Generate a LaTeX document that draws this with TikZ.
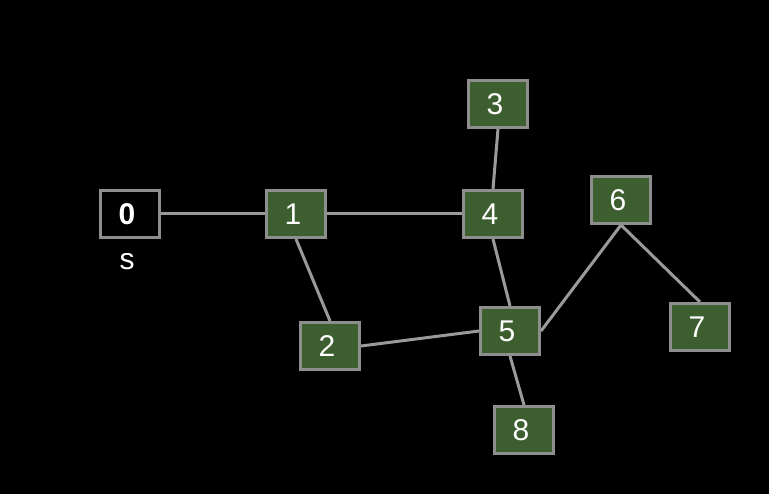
\documentclass[tikz,border=0pt]{standalone}
\usepackage{fontspec}
\setmainfont{Liberation Sans}
\usetikzlibrary{backgrounds}
\definecolor{nodegreen}{HTML}{3D5E2E}
\definecolor{bordergray}{HTML}{8E8E8E}
\definecolor{edgegray}{HTML}{9A9A9A}
\newcommand{\vlab}[1]{\kern-6pt#1}
\tikzset{
  vbox/.style={draw=bordergray, line width=3pt, fill=nodegreen, text=white,
    minimum width=59pt, minimum height=47pt, inner sep=0pt,
    font=\fontsize{30}{30}\selectfont},
  startbox/.style={vbox, fill=black, font=\fontsize{30}{30}\selectfont\bfseries},
  edge/.style={draw=edgegray, line width=3pt},
  lbl/.style={text=white, font=\fontsize{30}{30}\selectfont}
}
\begin{document}
\begin{tikzpicture}[x=1pt,y=-1pt]
\useasboundingbox (0,0) rectangle (769,494);
\node[startbox] (n0) at (130,214) {\vlab{0}};
\node[lbl] (s) at (127,262) {s};
\node[vbox] (n1) at (296,214) {\vlab{1}};
\node[vbox] (n2) at (330,346) {\vlab{2}};
\node[vbox] (n3) at (498,104) {\vlab{3}};
\node[vbox] (n4) at (493,214) {\vlab{4}};
\node[vbox] (n5) at (510,331) {\vlab{5}};
\node[vbox] (n6) at (621,200) {\vlab{6}};
\node[vbox] (n7) at (700,327) {\vlab{7}};
\node[vbox] (n8) at (524,430) {\vlab{8}};
\begin{scope}[on background layer]
\fill[black] (0,0) rectangle (769,494);
\draw[edge] (n0.east) -- (n1.west);
\draw[edge] (n1.east) -- (n4.west);
\draw[edge] (n1.south) -- (n2.north);
\draw[edge] (n3.south) -- (n4.north);
\draw[edge] (n4.south) -- (n5.north);
\draw[edge] (n2.east) -- (n5.west);
\draw[edge] (n5.east) -- (n6.south);
\draw[edge] (n6.south) -- (n7.north);
\draw[edge] (n5.south) -- (n8.north);
\end{scope}
\end{tikzpicture}
\end{document}
